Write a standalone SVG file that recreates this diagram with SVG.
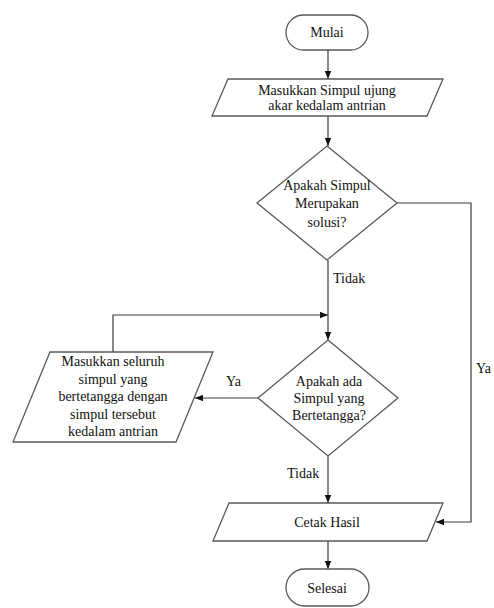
<svg xmlns="http://www.w3.org/2000/svg" width="494" height="608" viewBox="0 0 494 608">
<style>
.shape{fill:#fff;stroke:#595959;stroke-width:1.3}
.conn{fill:none;stroke:#3a3a3a;stroke-width:1.2}
text{font-family:"Times New Roman","Liberation Serif","DejaVu Serif",serif;font-size:14px;fill:#111;text-anchor:middle}
.lbl{text-anchor:start}
</style>
<defs>
<marker id="arr" viewBox="0 0 10 10" refX="10" refY="5" markerWidth="8" markerHeight="8" markerUnits="userSpaceOnUse" orient="auto">
<path d="M0,1 L10,5 L0,9 Z" fill="#111"/>
</marker>
</defs>
<rect width="494" height="608" fill="#fff"/>
<g id="connectors">
<path class="conn" d="M328,50 V79" marker-end="url(#arr)"/>
<path class="conn" d="M328,116 V146" marker-end="url(#arr)"/>
<path class="conn" d="M328,260 V340" marker-end="url(#arr)"/>
<path class="conn" d="M113,352 V315 H328" marker-end="url(#arr)"/>
<path class="conn" d="M258,398 H195" marker-end="url(#arr)"/>
<path class="conn" d="M328,456 V503" marker-end="url(#arr)"/>
<path class="conn" d="M397,203 H471 V522 H436" marker-end="url(#arr)"/>
<path class="conn" d="M328,541 V569" marker-end="url(#arr)"/>
<text class="lbl" x="333" y="283">Tidak</text>
<text class="lbl" x="226" y="386">Ya</text>
<text class="lbl" x="476" y="373">Ya</text>
<text class="lbl" x="287" y="478">Tidak</text>
</g>
<g id="mulai">
<rect class="shape" x="286" y="15" width="82" height="35" rx="17.5"/>
<text x="327" y="37">Mulai</text>
</g>
<g id="masukkan-akar">
<polygon class="shape" points="228,79 443,79 427,116 212,116"/>
<text x="327" y="95">Masukkan Simpul ujung</text>
<text x="327" y="110">akar kedalam antrian</text>
</g>
<g id="cek-solusi">
<polygon class="shape" points="327,146 397,203 327,260 257,203"/>
<text x="327" y="190">Apakah Simpul</text>
<text x="327" y="208">Merupakan</text>
<text x="327" y="227">solusi?</text>
</g>
<g id="cek-tetangga">
<polygon class="shape" points="328,340 398,398 328,456 258,398"/>
<text x="329" y="386">Apakah ada</text>
<text x="329" y="403">Simpul yang</text>
<text x="329" y="420">Bertetangga?</text>
</g>
<g id="masukkan-tetangga">
<polygon class="shape" points="50,352 213,352 176,442 13,442"/>
<text x="113" y="366">Masukkan seluruh</text>
<text x="113" y="384">simpul yang</text>
<text x="113" y="401">bertetangga dengan</text>
<text x="113" y="419">simpul tersebut</text>
<text x="113" y="436">kedalam antrian</text>
</g>
<g id="cetak-hasil">
<polygon class="shape" points="229,503 443,503 427,541 213,541"/>
<text x="327" y="527">Cetak Hasil</text>
</g>
<g id="selesai">
<rect class="shape" x="286" y="569" width="83" height="37" rx="18.5"/>
<text x="327" y="593">Selesai</text>
</g>
</svg>
